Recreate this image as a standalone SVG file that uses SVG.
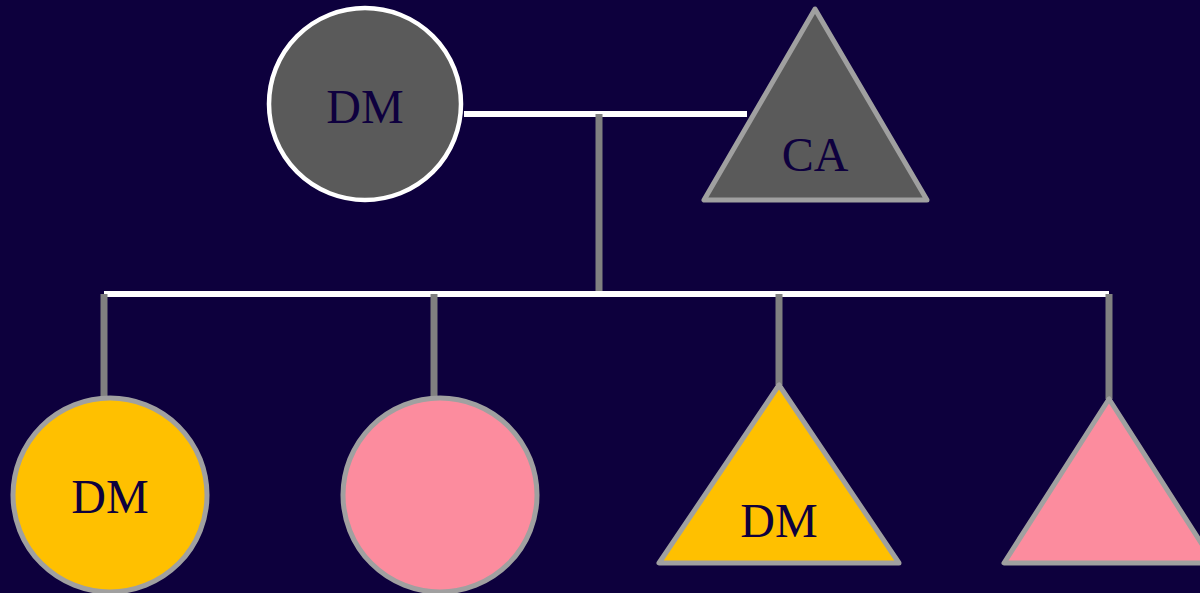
<svg xmlns="http://www.w3.org/2000/svg" width="1200" height="593" viewBox="0 0 1200 593">
<style>
.lbl{font-family:'Liberation Serif','Times New Roman',Times,serif;font-size:48px;fill:#0e003e;text-anchor:middle}
.shape{stroke:#a0a0a0;stroke-width:5;stroke-linejoin:round}
.couple{stroke:#ffffff;stroke-width:6;fill:none}
.drop{stroke:#808080;stroke-width:7;fill:none}
</style>
<rect width="1200" height="593" fill="#0d003d"/>
<g id="connectors">
<line class="couple" x1="464" y1="114" x2="747" y2="114"/>
<line class="drop" x1="599" y1="114" x2="599" y2="293"/>
<line class="couple" x1="104" y1="294" x2="1109" y2="294"/>
<line class="drop" x1="104" y1="294" x2="104" y2="398"/>
<line class="drop" x1="434" y1="294" x2="434" y2="398"/>
<line class="drop" x1="779" y1="294" x2="779" y2="385"/>
<line class="drop" x1="1109" y1="294" x2="1109" y2="399"/>
</g>
<g id="father">
<circle cx="365" cy="104" r="96" fill="#5a5a5a" stroke="#ffffff" stroke-width="4.5"/>
<text class="lbl" x="365" y="123">DM</text>
</g>
<g id="mother">
<polygon class="shape" points="815,9 704,200 927,200" fill="#5a5a5a"/>
<text class="lbl" x="815" y="171">CA</text>
</g>
<g id="child1">
<circle class="shape" cx="110" cy="495" r="97" fill="#ffc000"/>
<text class="lbl" x="110" y="513">DM</text>
</g>
<g id="child2">
<circle class="shape" cx="440" cy="495" r="97" fill="#fc8c9e"/>
</g>
<g id="child3">
<polygon class="shape" points="779,385 659,563 899,563" fill="#ffc000"/>
<text class="lbl" x="779" y="537">DM</text>
</g>
<g id="child4">
<polygon class="shape" points="1109,399 1004,563 1214,563" fill="#fc8c9e"/>
</g>
</svg>
